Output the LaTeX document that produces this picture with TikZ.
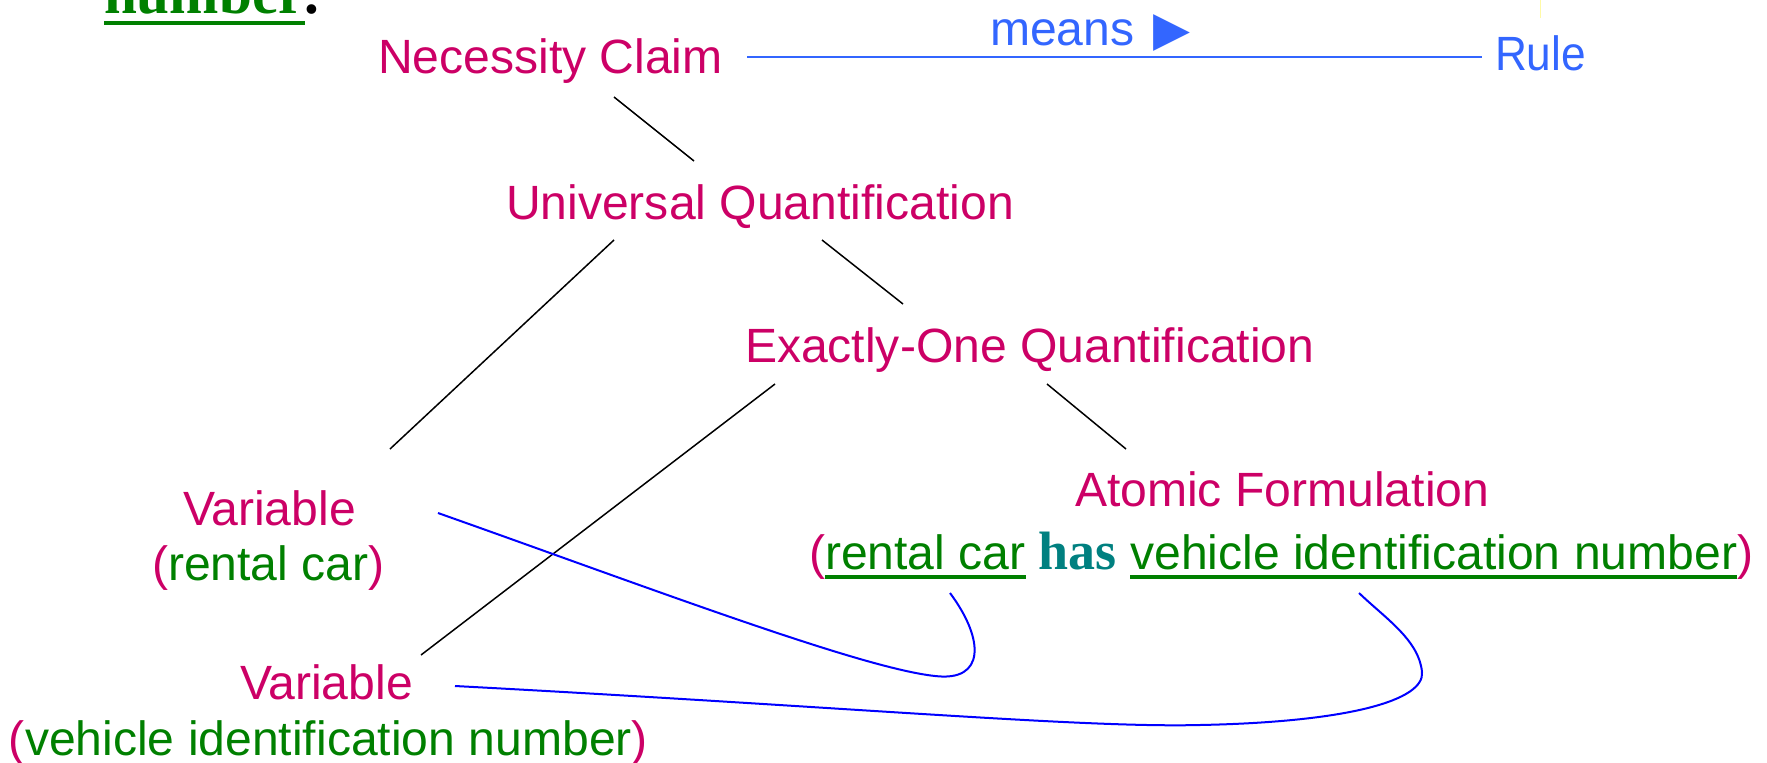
\documentclass[tikz,border=0pt]{standalone}
\usepackage{fontspec}
\setmainfont{Liberation Sans}
\newfontfamily\serifb{Liberation Serif}
\newfontfamily\dejavu{DejaVu Sans}
\usetikzlibrary{calc}
\definecolor{mag}{RGB}{204,0,102}
\definecolor{grn}{RGB}{0,128,0}
\definecolor{tealh}{RGB}{0,128,128}
\definecolor{lblue}{RGB}{51,102,255}
\definecolor{cblue}{RGB}{0,0,255}
\newsavebox\ulbox
% #1 depth of rule bottom below baseline, #2 thickness, #3 text
\newcommand\ulx[3]{\sbox\ulbox{#3}\rlap{\vrule width\wd\ulbox height -\dimexpr #1-#2\relax depth #1\relax}\usebox\ulbox}
\begin{document}
\begin{tikzpicture}[x=1pt,y=-1pt,
  lbl/.style={inner sep=0pt, outer sep=0pt, anchor=base west, font=\fontsize{48.1}{57}\selectfont},
  term/.style={lbl, text=mag},
  tree/.style={black, line width=1.5pt},
  link/.style={cblue, line width=2pt},
  meanslink/.style={lblue, line width=2pt}]
\useasboundingbox (0,0) rectangle (1767,763);
\clip (0,0) rectangle (1767,763);

\node[lbl, font=\fontsize{59.2}{60}\selectfont\serifb\bfseries, text=grn] (num) at (104,13)
  {\ulx{12pt}{4pt}{number}\textcolor{black}{.}};

\node[term] (nc) at (378,73.5) {Necessity Claim};
\node[term] (uq) at (506,219) {Universal Quantification};
\node[term] (eoq) at (745,362) {Exactly-One Quantification};
\node[term] (af) at (1075,506) {Atomic Formulation};
\node[term] (fm) at (809,569) {(\textcolor{grn}{\ulx{9.5pt}{4pt}{rental car}} {\fontsize{54}{57}\selectfont\serifb\bfseries\color{tealh}has} \textcolor{grn}{\ulx{9.5pt}{4pt}{vehicle identification number}})};
\node[term] (v1) at (183,525) {Variable};
\node[term] (v1s) at (152,580) {(\textcolor{grn}{rental car})};
\node[term] (v2) at (240,699) {Variable};
\node[term] (v2s) at (9,755) {(\textcolor{grn}{vehicle identification number})};
\node[lbl, text=lblue] (means) at (990,45) {means\hspace{6pt} {\dejavu ▶}};
\node[lbl, text=lblue, xscale=0.92] (rule) at (1495,70) {Rule};

\draw[yellow!35, line width=1pt] (1540,0) -- (1540,18);

\draw[meanslink] ($(nc.base west)+(369,-16.5)$) -- ($(rule.base west)+(-13,-13)$);

\draw[tree] ($(nc.base west)+(236,23.5)$) -- ($(uq.base west)+(188,-58)$);
\draw[tree] ($(uq.base west)+(108,21)$) -- ($(v1.base west)+(207,-76)$);
\draw[tree] ($(uq.base west)+(316,21)$) -- ($(eoq.base west)+(158,-58)$);
\draw[tree] ($(eoq.base west)+(30,22)$) -- ($(v2.base west)+(181,-44)$);
\draw[tree] ($(eoq.base west)+(302,22)$) -- ($(af.base west)+(51,-57)$);

\coordinate (rcend) at ($(fm.base west)+(141,24)$);
\coordinate (vinend) at ($(fm.base west)+(550,24)$);
\draw[link] ($(v1.base west)+(255,-12)$) .. controls (650,588) and (860,668) .. (935,676)
  .. controls (985,682) and (985,640) .. (rcend);
\draw[link] ($(v2.base west)+(215,-13)$) .. controls (850,707) and (1080,728) .. (1200,725)
  .. controls (1350,722) and (1425,700) .. (1422,672)
  .. controls (1419,640) and (1385,618) .. (vinend);
\end{tikzpicture}
\end{document}
